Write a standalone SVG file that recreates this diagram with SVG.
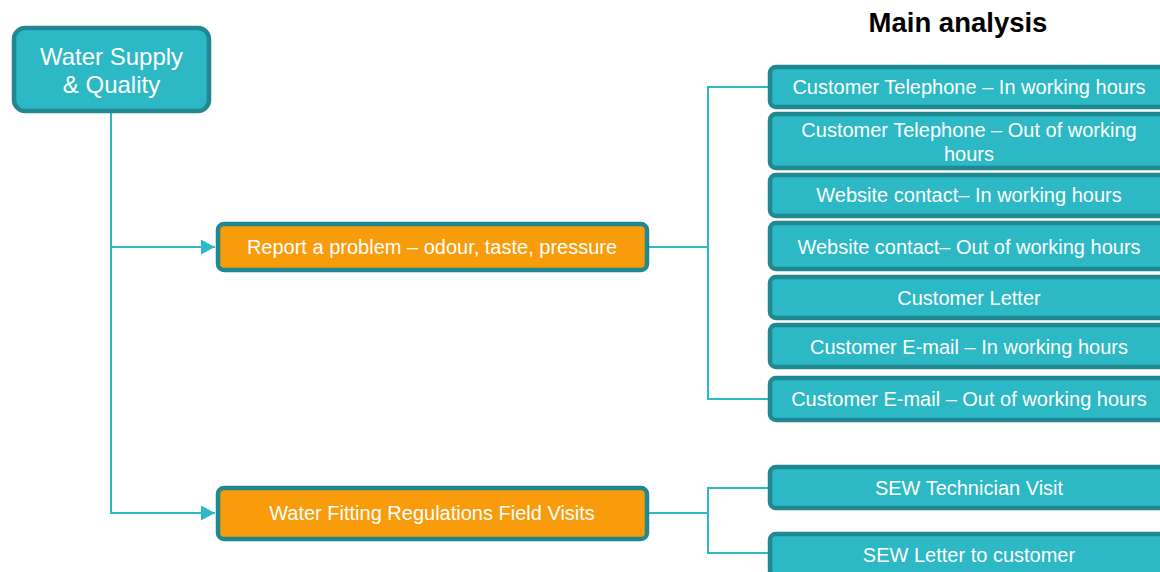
<svg xmlns="http://www.w3.org/2000/svg" width="1160" height="572" viewBox="0 0 1160 572">
<defs>
<style>
.n{fill:#2db8c5;stroke:#1f8890;stroke-width:4.5}
.o{fill:#f89c0b;stroke:#1f8890;stroke-width:4.5}
.t{font-family:"Liberation Sans",Arial,sans-serif;fill:#fff;text-anchor:middle;font-size:20px}
.c{fill:none;stroke:#2db8c5;stroke-width:2}
</style>
<marker id="ah" viewBox="0 0 10 10" refX="10" refY="5" markerWidth="14" markerHeight="15" markerUnits="userSpaceOnUse" orient="auto" preserveAspectRatio="none"><path d="M0,0 L10,5 L0,10 z" fill="#2db8c5"/></marker>
</defs>
<rect width="1160" height="572" fill="#fff"/>
<text x="958" y="32" font-family="Liberation Sans,Arial,sans-serif" font-weight="bold" font-size="27.5" text-anchor="middle" fill="#000">Main analysis</text>
<g id="connectors">
<path class="c" d="M111,111 V247 H215" marker-end="url(#ah)"/>
<path class="c" d="M111,247 V513 H215" marker-end="url(#ah)"/>
<path class="c" d="M648,247 H708 V87 H769"/>
<path class="c" d="M708,247 V399 H769"/>
<path class="c" d="M648,513 H708 V488 H769"/>
<path class="c" d="M708,513 V553 H769"/>
</g>
<g id="n-root"><rect class="n" x="14" y="28" width="195" height="83" rx="11"/><text class="t" style="font-size:24px" x="111.5" y="65">Water Supply</text><text class="t" style="font-size:24px" x="111.5" y="93">&amp; Quality</text></g>
<g id="n-report"><rect class="o" x="218" y="224" width="429" height="46" rx="6"/><text class="t" x="432" y="254">Report a problem – odour, taste, pressure</text></g>
<g id="n-fitting"><rect class="o" x="218" y="488" width="429" height="51" rx="6"/><text class="t" x="432" y="520">Water Fitting Regulations Field Visits</text></g>
<g id="n-tel-in"><rect class="n" x="770" y="67" width="400" height="40" rx="6"/><text class="t" x="969" y="94">Customer Telephone – In working hours</text></g>
<g id="n-tel-out"><rect class="n" x="770" y="114" width="400" height="54" rx="6"/><text class="t" x="969" y="137">Customer Telephone – Out of working</text><text class="t" x="969" y="161">hours</text></g>
<g id="n-web-in"><rect class="n" x="770" y="175" width="400" height="41" rx="6"/><text class="t" x="969" y="202">Website contact– In working hours</text></g>
<g id="n-web-out"><rect class="n" x="770" y="223" width="400" height="46" rx="6"/><text class="t" x="969" y="254">Website contact– Out of working hours</text></g>
<g id="n-letter"><rect class="n" x="770" y="277" width="400" height="41" rx="6"/><text class="t" x="969" y="305">Customer Letter</text></g>
<g id="n-email-in"><rect class="n" x="770" y="325" width="400" height="42" rx="6"/><text class="t" x="969" y="354">Customer E-mail – In working hours</text></g>
<g id="n-email-out"><rect class="n" x="770" y="378" width="400" height="42" rx="6"/><text class="t" x="969" y="406">Customer E-mail – Out of working hours</text></g>
<g id="n-sew-visit"><rect class="n" x="770" y="467" width="400" height="41" rx="6"/><text class="t" x="969" y="495">SEW Technician Visit</text></g>
<g id="n-sew-letter"><rect class="n" x="770" y="534" width="400" height="42" rx="6"/><text class="t" x="969" y="562">SEW Letter to customer</text></g>
</svg>
